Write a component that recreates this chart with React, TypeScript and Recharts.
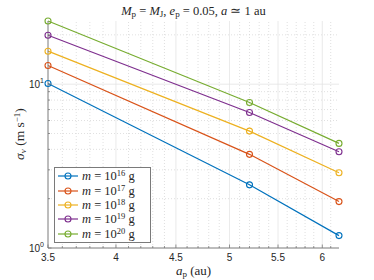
import React from 'react'
import { Legend, Line, LineChart, ReferenceLine, XAxis, YAxis } from 'recharts'

// semi-major axis of the planet (au)
const AP = [3.5, 5.2, 6.2]

// velocity dispersion sigma_v (m/s) for each perturber mass
const M16 = [10.1, 2.43, 1.19]
const M17 = [13.0, 3.73, 1.92]
const M18 = [15.9, 5.17, 2.88]
const M19 = [19.9, 6.72, 3.87]
const M20 = [24.3, 7.73, 4.35]

const SERIES = [
  { key: 'm16', exp: '16', values: M16, color: '#0072BD' },
  { key: 'm17', exp: '17', values: M17, color: '#D95319' },
  { key: 'm18', exp: '18', values: M18, color: '#EDB120' },
  { key: 'm19', exp: '19', values: M19, color: '#7E2F8E' },
  { key: 'm20', exp: '20', values: M20, color: '#77AC30' },
]

const X_MAJOR = [3.5, 4, 4.5, 5, 5.5, 6]
const X_MINOR = [3.6, 3.7, 3.8, 3.9, 4.1, 4.2, 4.3, 4.4, 4.6, 4.7, 4.8, 4.9, 5.1, 5.2, 5.3, 5.4, 5.6, 5.7, 5.8, 5.9, 6.1]
const Y_MAJOR = [1, 10]
const Y_MINOR = [2, 3, 4, 5, 6, 7, 8, 9, 20]

const X_DOMAIN = [3.5, 6.2]
const Y_DOMAIN = [1, 24.3]

const data = AP.map((ap, i) => {
  const row: Record<string, number> = { ap }
  SERIES.forEach((s) => (row[s.key] = s.values[i]))
  return row
})

const AXIS = '#7a7a7a'
const TEXT = '#262626'
const SANS = '"Liberation Sans", Arial, sans-serif'
const SERIF = '"Liberation Serif", "Times New Roman", serif'

const isMajor = (list: number[], v: number) => list.some((m) => Math.abs(m - v) < 1e-9)

function XTickBottom(props: any) {
  const { x, y, payload } = props
  const major = isMajor(X_MAJOR, payload.value)
  const base = y - 4
  return (
    <g>
      <line x1={x} x2={x} y1={base} y2={base - (major ? 3.5 : 2)} stroke={AXIS} strokeWidth={0.8} />
      {major && (
        <text x={x} y={y} dy={9} textAnchor="middle" fontFamily={SANS} fontSize={10} fill={TEXT}>
          {payload.value}
        </text>
      )}
    </g>
  )
}

function XTickTop(props: any) {
  const { x, y, payload } = props
  const major = isMajor(X_MAJOR, payload.value)
  return <line x1={x} x2={x} y1={y} y2={y + (major ? 3.5 : 2)} stroke={AXIS} strokeWidth={0.8} />
}

function YTickLeft(props: any) {
  const { x, y, payload } = props
  const major = isMajor(Y_MAJOR, payload.value)
  const base = x + 2
  const exp = Math.round(Math.log10(payload.value))
  return (
    <g>
      <line x1={base} x2={base + (major ? 3.5 : 2)} y1={y} y2={y} stroke={AXIS} strokeWidth={0.8} />
      {major && (
        <text x={x - 2} y={y} dy={4} textAnchor="end" fontFamily={SANS} fontSize={10} fill={TEXT}>
          <tspan>10</tspan>
          <tspan dy={-5} fontSize={7}>{exp}</tspan>
        </text>
      )}
    </g>
  )
}

function YTickRight(props: any) {
  const { x, y, payload } = props
  const major = isMajor(Y_MAJOR, payload.value)
  return <line x1={x} x2={x - (major ? 3.5 : 2)} y1={y} y2={y} stroke={AXIS} strokeWidth={0.8} />
}

function LegendBox() {
  return (
    <div
      style={{
        width: 93,
        boxSizing: 'content-box',
        border: `1px solid ${AXIS}`,
        background: '#fff',
        padding: '1px 0 1px 2px',
        fontFamily: SERIF,
        fontSize: 12.5,
        color: TEXT,
        lineHeight: '14px',
        textAlign: 'left',
      }}
    >
      {SERIES.map((s) => (
        <div key={s.key} style={{ display: 'flex', alignItems: 'center', whiteSpace: 'nowrap', height: 14.4 }}>
          <svg width={22} height={10} style={{ marginRight: 3 }}>
            <line x1={1} x2={21} y1={5} y2={5} stroke={s.color} strokeWidth={1.2} />
            <circle cx={11} cy={5} r={3} fill="none" stroke={s.color} strokeWidth={1.1} />
          </svg>
          <span>
            <i>m</i> = 10<sup style={{ fontSize: 8.5, verticalAlign: 4, lineHeight: 0 }}>{s.exp}</sup> g
          </span>
        </div>
      ))}
    </div>
  )
}

const sub = { fontSize: 9, verticalAlign: -2, lineHeight: 0 } as const

export default function App() {
  return (
    <div style={{ position: 'relative', width: 374, height: 280, background: '#fff' }}>
      <style>{'body{margin:0}'}</style>
      <LineChart width={374} height={280} data={data} margin={{ top: 21, right: 35, bottom: 0, left: 0 }}>
        {X_MINOR.map((v) => (
          <ReferenceLine key={`xm${v}`} x={v} stroke="#d2d2d2" strokeWidth={0.7} strokeDasharray="1 2" />
        ))}
        {Y_MINOR.map((v) => (
          <ReferenceLine key={`ym${v}`} y={v} stroke="#d2d2d2" strokeWidth={0.7} strokeDasharray="1 2" />
        ))}
        {X_MAJOR.slice(1).map((v) => (
          <ReferenceLine key={`xM${v}`} x={v} stroke="#e4e4e4" strokeWidth={0.8} />
        ))}
        {Y_MAJOR.slice(1).map((v) => (
          <ReferenceLine key={`yM${v}`} y={v} stroke="#e4e4e4" strokeWidth={0.8} />
        ))}
        <XAxis
          dataKey="ap"
          type="number"
          scale="log"
          domain={X_DOMAIN}
          ticks={[...X_MAJOR, ...X_MINOR]}
          interval={0}
          height={32}
          tickSize={0}
          tickMargin={4}
          axisLine={{ stroke: AXIS }}
          tickLine={false}
          tick={(p: any) => <XTickBottom {...p} />}
        />
        <XAxis
          xAxisId="top"
          orientation="top"
          type="number"
          scale="log"
          domain={X_DOMAIN}
          ticks={[...X_MAJOR, ...X_MINOR]}
          interval={0}
          height={0}
          tickSize={0}
          tickMargin={0}
          axisLine={{ stroke: AXIS }}
          tickLine={false}
          tick={(p: any) => <XTickTop {...p} />}
        />
        <YAxis
          type="number"
          scale="log"
          domain={Y_DOMAIN}
          ticks={[...Y_MAJOR, ...Y_MINOR]}
          interval={0}
          width={48}
          tickSize={0}
          tickMargin={2}
          axisLine={{ stroke: AXIS }}
          tickLine={false}
          tick={(p: any) => <YTickLeft {...p} />}
        />
        <YAxis
          yAxisId="right"
          orientation="right"
          type="number"
          scale="log"
          domain={Y_DOMAIN}
          ticks={[...Y_MAJOR, ...Y_MINOR]}
          interval={0}
          width={0}
          tickSize={0}
          tickMargin={0}
          axisLine={{ stroke: AXIS }}
          tickLine={false}
          tick={(p: any) => <YTickRight {...p} />}
        />
        {SERIES.map((s) => (
          <Line
            key={s.key}
            dataKey={s.key}
            type="linear"
            stroke={s.color}
            strokeWidth={1.2}
            dot={{ r: 3, fill: 'none', stroke: s.color, strokeWidth: 1.1 }}
            isAnimationActive={false}
          />
        ))}
        <Legend
          verticalAlign="middle"
          align="center"
          layout="vertical"
          content={() => <LegendBox />}
          wrapperStyle={{ left: 54, top: 167, width: 'auto', right: 'auto', bottom: 'auto' }}
        />
      </LineChart>
      <div
        style={{
          position: 'absolute',
          left: 48,
          width: 291,
          top: 3,
          textAlign: 'center',
          fontFamily: SERIF,
          fontSize: 12.5,
          color: TEXT,
        }}
      >
        <i>M</i>
        <span style={sub}>p</span> = <i>M</i>
        <span style={sub}>J</span>, <i>e</i>
        <span style={sub}>p</span> = 0.05, <i>a</i> ≃ 1 au
      </div>
      <div
        style={{
          position: 'absolute',
          left: 48,
          width: 291,
          top: 263,
          textAlign: 'center',
          fontFamily: SERIF,
          fontSize: 13,
          color: TEXT,
        }}
      >
        <i>a</i>
        <span style={sub}>p</span> (au)
      </div>
      <div
        style={{
          position: 'absolute',
          left: 20,
          top: 134,
          transform: 'translate(-50%, -50%) rotate(-90deg)',
          whiteSpace: 'nowrap',
          fontFamily: SERIF,
          fontSize: 13.5,
          color: TEXT,
        }}
      >
        <i>σ</i>
        <i style={sub}>v</i> (m s<sup style={{ fontSize: 9, verticalAlign: 4, lineHeight: 0 }}>−1</sup>)
      </div>
    </div>
  )
}
